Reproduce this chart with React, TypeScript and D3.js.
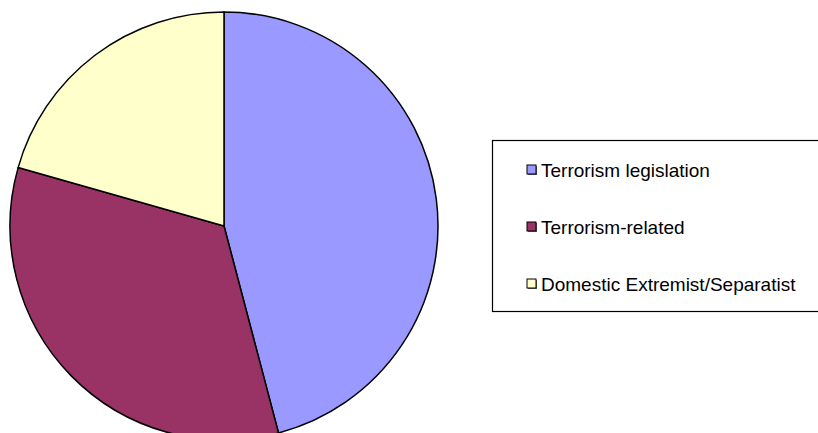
import React, { useEffect, useRef } from 'react';
import * as d3 from 'd3';

const categories = ['Terrorism legislation', 'Terrorism-related', 'Domestic Extremist/Separatist'];
const values = [45.9, 33.5, 20.6];
const colors = ['#9999FF', '#993366', '#FFFFCC'];

const W = 818;
const H = 433;

const App: React.FC = () => {
  const svgRef = useRef<SVGSVGElement>(null);

  useEffect(() => {
    if (!svgRef.current) return;
    const svg = d3.select(svgRef.current);
    svg.selectAll('*').remove();

    const cx = 224;
    const cy = 226;
    const r = 214;

    const pie = d3.pie<number>().sort(null).value(d => d);
    const arc = d3.arc<d3.PieArcDatum<number>>().innerRadius(0).outerRadius(r);

    const g = svg.append('g').attr('transform', `translate(${cx},${cy})`);
    g.selectAll('path')
      .data(pie(values))
      .enter().append('path')
      .attr('d', arc)
      .attr('fill', (_, i) => colors[i])
      .attr('stroke', '#000')
      .attr('stroke-width', 1.5)
      .attr('stroke-linejoin', 'round');

    // Legend
    const legend = svg.append('g');
    legend.append('rect')
      .attr('x', 492.5)
      .attr('y', 140.5)
      .attr('width', 340)
      .attr('height', 171)
      .attr('fill', '#fff')
      .attr('stroke', '#000')
      .attr('stroke-width', 1.2);

    const rowY = d3.scalePoint<string>().domain(categories).range([169.5, 283.5]);

    const items = legend.selectAll('g.item')
      .data(categories)
      .enter().append('g')
      .attr('class', 'item')
      .attr('transform', d => `translate(0,${rowY(d)})`);

    items.append('rect')
      .attr('x', 528)
      .attr('y', -3.5)
      .attr('width', 9)
      .attr('height', 9)
      .attr('fill', '#666');
    items.append('rect')
      .attr('x', 527)
      .attr('y', -4.5)
      .attr('width', 9)
      .attr('height', 9)
      .attr('fill', (_, i) => colors[i])
      .attr('stroke', '#000')
      .attr('stroke-width', 1);

    items.append('text')
      .attr('x', 541)
      .attr('y', 7.5)
      .attr('font-family', 'Liberation Sans, Arial, sans-serif')
      .attr('font-size', 19)
      .attr('fill', '#000')
      .text(d => d);
  }, []);

  return (
    <div style={{ position: 'fixed', left: 0, top: 0, width: W, height: H, background: '#fff' }}>
      <svg ref={svgRef} width={W} height={H} />
    </div>
  );
};

export default App;
